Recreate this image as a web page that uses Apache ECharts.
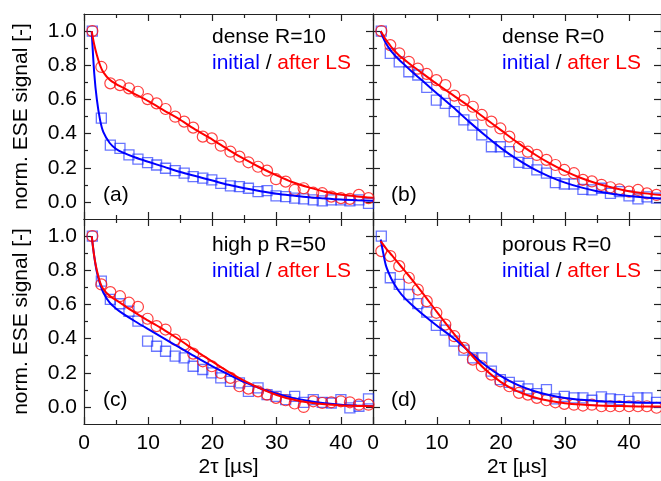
<!DOCTYPE html>
<html><head><meta charset="utf-8">
<script src="https://cdn.jsdelivr.net/npm/echarts@6/dist/echarts.min.js"></script>
<style>html,body{margin:0;padding:0;background:#fff}#c{width:661px;height:481px}</style>
</head><body><div id="c"></div>
<script>
// ---- tick definitions ----
const xTicks = [0, 10, 20, 30, 40];
const xMinor = [5, 15, 25, 35];
const yTicks = [0, 0.2, 0.4, 0.6, 0.8, 1.0];
const yMinor = [0.1, 0.3, 0.5, 0.7, 0.9];

// ---- measured 2tau values (µs) ----
const xs = [1.3, 2.7, 4.1, 5.6, 7.0, 8.4, 9.9, 11.3, 12.7, 14.2, 15.6, 17.0, 18.5, 19.9, 21.3, 22.8,
            24.2, 25.6, 27.1, 28.5, 29.9, 31.4, 32.8, 34.2, 35.7, 37.1, 38.5, 40.0, 41.4, 42.8, 44.3];
// ---- 2tau values of the fit curves (µs) ----
const fx = [1.2, 1.6, 2.0, 2.5, 3, 4, 5, 6, 8, 10, 12.5, 15, 17.5, 20, 22.5, 25, 27.5, 30, 32.5, 35, 37.5, 40, 42.5, 45];

// ---- panel (a) dense R=10 ----
const aInit = [1.0, 0.49, 0.333, 0.314, 0.275, 0.25, 0.23, 0.216, 0.197, 0.183, 0.168, 0.148, 0.139, 0.129, 0.109, 0.094,
               0.09, 0.08, 0.06, 0.066, 0.035, 0.031, 0.022, 0.018, 0.012, 0.006, 0.012, 0.012, 0.006, 0.012, -0.008];
const aLS = [1.0, 0.79, 0.694, 0.684, 0.665, 0.645, 0.602, 0.577, 0.544, 0.499, 0.47, 0.435, 0.382, 0.372, 0.329, 0.294,
             0.265, 0.232, 0.206, 0.183, 0.133, 0.119, 0.07, 0.08, 0.054, 0.051, 0.031, 0.022, 0.018, 0.041, 0.022];
const aFitInit = [1.0, 0.75, 0.6, 0.48, 0.41, 0.345, 0.31, 0.29, 0.26, 0.235, 0.205, 0.175, 0.15, 0.125, 0.1, 0.08,
                  0.063, 0.048, 0.037, 0.027, 0.02, 0.014, 0.01, 0.007];
const aFitLS = [1.0, 0.92, 0.86, 0.8, 0.76, 0.715, 0.69, 0.67, 0.63, 0.59, 0.535, 0.48, 0.42, 0.365, 0.305, 0.25,
                0.2, 0.155, 0.115, 0.085, 0.06, 0.043, 0.032, 0.024];

// ---- panel (b) dense R=0 ----
const bInit = [1.0, 0.87, 0.82, 0.762, 0.743, 0.67, 0.596, 0.577, 0.528, 0.48, 0.45, 0.392, 0.323, 0.323, 0.294, 0.232,
               0.226, 0.187, 0.168, 0.113, 0.105, 0.105, 0.074, 0.07, 0.08, 0.05, 0.06, 0.035, 0.018, 0.03, 0.022];
const bLS = [1.0, 0.918, 0.87, 0.82, 0.78, 0.749, 0.713, 0.684, 0.622, 0.596, 0.557, 0.509, 0.47, 0.43, 0.382, 0.323,
             0.294, 0.275, 0.246, 0.216, 0.187, 0.168, 0.129, 0.12, 0.1, 0.086, 0.074, 0.06, 0.07, 0.05, 0.041];
const bFitInit = [1.0, 0.96, 0.93, 0.9, 0.875, 0.835, 0.8, 0.765, 0.7, 0.635, 0.555, 0.47, 0.39, 0.315, 0.25, 0.195,
                  0.15, 0.113, 0.085, 0.063, 0.047, 0.035, 0.026, 0.02];
const bFitLS = [1.0, 0.975, 0.95, 0.925, 0.9, 0.86, 0.83, 0.8, 0.745, 0.69, 0.625, 0.56, 0.49, 0.42, 0.35, 0.285,
                0.228, 0.18, 0.14, 0.108, 0.083, 0.063, 0.05, 0.04];

// ---- panel (c) high p R=50 ----
const cInit = [1.0, 0.736, 0.629, 0.604, 0.56, 0.502, 0.385, 0.355, 0.326, 0.297, 0.287, 0.238, 0.219, 0.199, 0.17, 0.15,
               0.141, 0.091, 0.111, 0.072, 0.062, 0.043, 0.062, 0.027, 0.043, 0.027, 0.023, 0.043, -0.006, 0.004, 0.047];
const cLS = [1.0, 0.717, 0.672, 0.648, 0.61, 0.586, 0.516, 0.473, 0.453, 0.394, 0.365, 0.312, 0.267, 0.238, 0.199, 0.17,
             0.121, 0.107, 0.091, 0.072, 0.053, 0.039, 0.02, 0.0, 0.033, 0.023, 0.027, 0.033, 0.027, 0.013, 0.013];
const cFitInit = [1.0, 0.88, 0.79, 0.72, 0.67, 0.61, 0.575, 0.548, 0.5, 0.455, 0.4, 0.345, 0.29, 0.238, 0.19, 0.145,
                  0.108, 0.077, 0.053, 0.035, 0.022, 0.013, 0.008, 0.004];
const cFitLS = [1.0, 0.88, 0.8, 0.73, 0.69, 0.65, 0.625, 0.6, 0.55, 0.505, 0.45, 0.39, 0.325, 0.265, 0.205, 0.152,
                0.107, 0.07, 0.043, 0.026, 0.015, 0.009, 0.006, 0.004];

// ---- panel (d) porous R=0 ----
const dInit = [1.0, 0.756, 0.717, 0.658, 0.605, 0.555, 0.477, 0.449, 0.385, 0.332, 0.287, 0.287, 0.209, 0.16, 0.144, 0.121,
               0.106, 0.078, 0.101, 0.047, 0.062, 0.053, 0.053, 0.039, 0.059, 0.047, 0.043, 0.033, 0.053, 0.053, 0.027];
const dLS = [0.912, 0.883, 0.824, 0.756, 0.687, 0.619, 0.551, 0.482, 0.414, 0.346, 0.277, 0.238, 0.189, 0.15, 0.121, 0.082,
             0.072, 0.053, 0.039, 0.027, 0.018, 0.013, 0.008, 0.013, 0.004, 0.004, 0.004, 0.004, 0.004, 0.004, -0.005];
const dFitInit = [0.98, 0.9, 0.83, 0.78, 0.74, 0.68, 0.635, 0.6, 0.535, 0.475, 0.405, 0.325, 0.245, 0.18, 0.13, 0.095,
                  0.07, 0.052, 0.042, 0.035, 0.03, 0.027, 0.025, 0.024];
const dFitLS = [0.97, 0.95, 0.93, 0.907, 0.885, 0.84, 0.795, 0.75, 0.655, 0.555, 0.435, 0.32, 0.22, 0.145, 0.092, 0.058,
                0.036, 0.022, 0.014, 0.009, 0.006, 0.004, 0.003, 0.003];

const titles = ['dense R=10', 'dense R=0', 'high p R=50', 'porous R=0'];
const tags = ['(a)', '(b)', '(c)', '(d)'];
const xName = '2τ [µs]';
const yName = 'norm. ESE signal [-]';

const panels = [
  {init: aInit, ls: aLS, fi: aFitInit, fl: aFitLS},
  {init: bInit, ls: bLS, fi: bFitInit, fl: bFitLS},
  {init: cInit, ls: cLS, fi: cFitInit, fl: cFitLS},
  {init: dInit, ls: dLS, fi: dFitInit, fl: dFitLS}
];

const FONT = 'Liberation Sans, Arial, sans-serif';
const AX = '#222';
const grids = [
  {left: 84, top: 14, width: 289, height: 205},
  {left: 373, top: 14, width: 288, height: 205},
  {left: 84, top: 219, width: 289, height: 205},
  {left: 373, top: 219, width: 288, height: 205}
];

const pairs = (x, y) => x.map((v, i) => [v, y[i]]);

const xAxes = [], yAxes = [], series = [], graphics = [];
grids.forEach((g, gi) => {
  const bottomRow = gi >= 2, leftCol = gi % 2 === 0;
  const xbase = {type: 'value', gridIndex: gi, min: 0, max: 45, splitLine: {show: false},
                 axisLine: {onZero: false, lineStyle: {color: AX, width: 1.2}}};
  const ybase = {type: 'value', gridIndex: gi, min: -0.1, max: 1.1, splitLine: {show: false},
                 axisLine: {onZero: false, lineStyle: {color: AX, width: 1.2}}};
  ['bottom', 'top'].forEach(pos => {
    const main = pos === 'bottom';
    xAxes.push(Object.assign({}, xbase, {
      position: pos,
      axisTick: {show: true, inside: true, length: 7, customValues: xTicks, lineStyle: {color: AX, width: 1.2}},
      axisLabel: {show: main && bottomRow, customValues: xTicks, margin: 9, color: '#000', fontSize: 21, fontFamily: FONT},
      name: main && bottomRow ? xName : '', nameLocation: 'middle', nameGap: 33,
      nameTextStyle: {color: '#000', fontSize: 21, fontFamily: FONT}
    }));
    xAxes.push(Object.assign({}, xbase, {
      position: pos, axisLine: {show: false, onZero: false},
      axisTick: {show: true, inside: true, length: 4, customValues: xMinor, lineStyle: {color: AX, width: 1.2}},
      axisLabel: {show: false}
    }));
  });
  ['left', 'right'].forEach(pos => {
    const main = pos === 'left';
    yAxes.push(Object.assign({}, ybase, {
      position: pos,
      axisTick: {show: true, inside: true, length: 7, customValues: yTicks, lineStyle: {color: AX, width: 1.2}},
      axisLabel: {show: main && leftCol, customValues: yTicks, margin: 7, color: '#000', fontSize: 21, fontFamily: FONT,
                  formatter: v => v.toFixed(1)},
      name: main && leftCol ? yName : '', nameLocation: 'middle', nameGap: 52, nameRotate: 90,
      nameTextStyle: {color: '#000', fontSize: 21, fontFamily: FONT}
    }));
    yAxes.push(Object.assign({}, ybase, {
      position: pos, axisLine: {show: false, onZero: false},
      axisTick: {show: true, inside: true, length: 4, customValues: yMinor, lineStyle: {color: AX, width: 1.2}},
      axisLabel: {show: false}
    }));
  });
  const xi = gi * 4, yi = gi * 4;
  const p = panels[gi];
  series.push({type: 'scatter', xAxisIndex: xi, yAxisIndex: yi, data: pairs(xs, p.init), symbol: 'rect', symbolSize: 10,
               clip: false, silent: true,
               itemStyle: {color: 'rgba(0,0,0,0)', borderColor: 'rgba(20,40,255,0.8)', borderWidth: 1.3}, z: 2});
  series.push({type: 'scatter', xAxisIndex: xi, yAxisIndex: yi, data: pairs(xs, p.ls), symbol: 'circle', symbolSize: 11,
               clip: false, silent: true,
               itemStyle: {color: 'rgba(0,0,0,0)', borderColor: '#ff1010', borderWidth: 1.2}, z: 3});
  series.push({type: 'line', xAxisIndex: xi, yAxisIndex: yi, data: pairs(fx, p.fi), showSymbol: false,
               smooth: 0.3, silent: true, lineStyle: {color: '#0000ff', width: 2}, z: 4});
  series.push({type: 'line', xAxisIndex: xi, yAxisIndex: yi, data: pairs(fx, p.fl), showSymbol: false,
               smooth: 0.3, silent: true, lineStyle: {color: '#ff0000', width: 2}, z: 5});

  const tx = g.left + (leftCol ? 128 : 129);
  const ty = g.top + (bottomRow ? 26 : 23);
  graphics.push({type: 'text', x: tx, y: ty, z: 10,
                 style: {text: titles[gi], font: '21px ' + FONT, fill: '#000', verticalAlign: 'middle'}});
  graphics.push({type: 'text', x: tx, y: ty + 26, z: 10,
                 style: {text: '{b|initial} / {r|after LS}', font: '21px ' + FONT, fill: '#000', verticalAlign: 'middle',
                         rich: {b: {fill: '#0000ff', font: '21px ' + FONT}, r: {fill: '#ff0000', font: '21px ' + FONT}}}});
  graphics.push({type: 'text', x: g.left + (leftCol ? 19 : 18), y: g.top + 181, z: 10,
                 style: {text: tags[gi], font: '21px ' + FONT, fill: '#000', verticalAlign: 'middle'}});
});

const chart = echarts.init(document.getElementById('c'), null, {renderer: 'canvas'});
chart.setOption({
  animation: false,
  backgroundColor: '#fff',
  grid: grids,
  xAxis: xAxes,
  yAxis: yAxes,
  series: series,
  graphic: graphics
});
</script></body></html>
